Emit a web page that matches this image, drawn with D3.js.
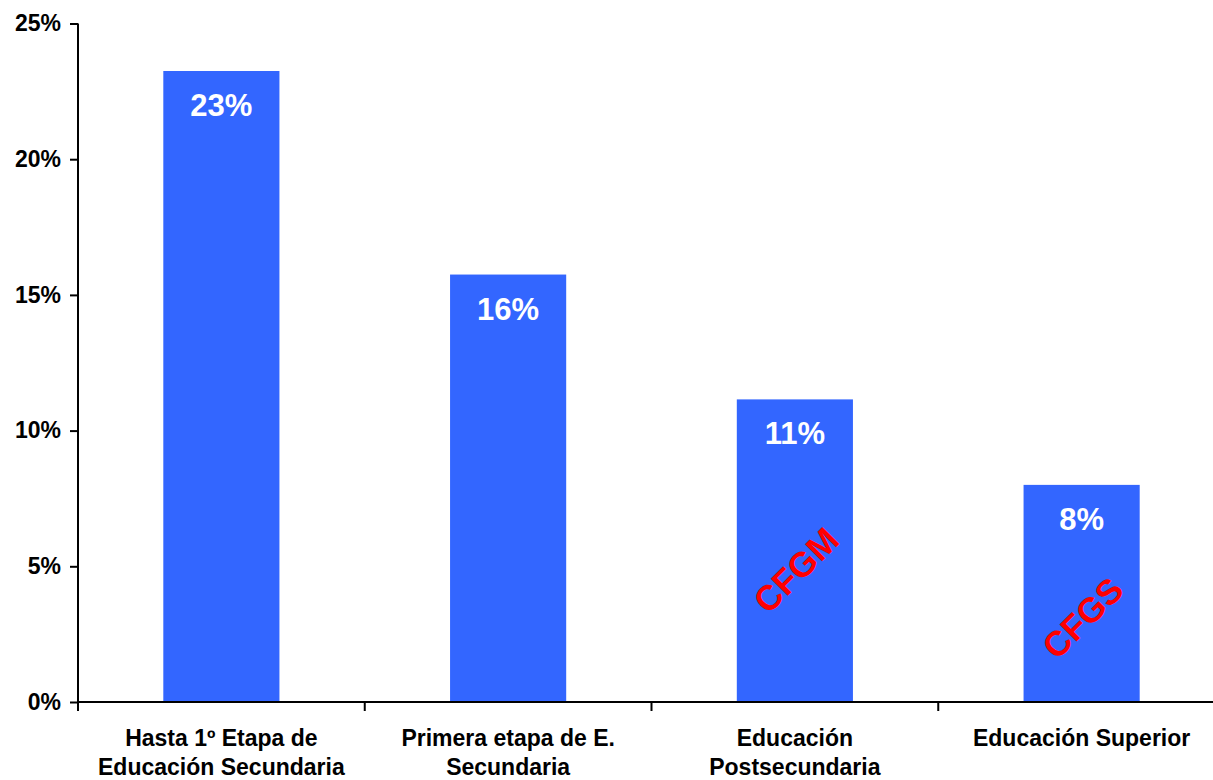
<!DOCTYPE html>
<html><head><meta charset="utf-8">
<script src="https://cdn.jsdelivr.net/npm/d3@7"></script>
<style>
html,body{margin:0;padding:0;background:#fff;}
svg{display:block;font-family:"Liberation Sans",Arial,sans-serif;}
</style></head>
<body><svg id="c" width="1213" height="780"></svg>
<script>
const categories = ["Hasta 1º Etapa de Educación Secundaria","Primera etapa de E. Secundaria","Educación Postsecundaria","Educación Superior"];
const categoryLines = [["Hasta 1º Etapa de","Educación Secundaria"],["Primera etapa de E.","Secundaria"],["Educación","Postsecundaria"],["Educación Superior"]];
const values = [0.2325, 0.1575, 0.1115, 0.080];
const valueLabels = ["23%","16%","11%","8%"];
const overlayLabels = ["","","CFGM","CFGS"];
const yTicks = [0,0.05,0.10,0.15,0.20,0.25];

const svg = d3.select("#c");
const pLeft = 78, pRight = 1225, pTop = 23.5, pBottom = 702;
const x = d3.scaleBand().domain(categories).range([pLeft,pRight]).paddingInner(0.595).paddingOuter(0.2975);
const y = d3.scaleLinear().domain([0,0.25]).range([pBottom,pTop]);

// bars
svg.append("g").selectAll("rect").data(categories).join("rect")
  .attr("x", d=>x(d)).attr("width", x.bandwidth())
  .attr("y", (d,i)=>y(values[i])).attr("height",(d,i)=>pBottom-y(values[i]))
  .attr("fill","#3366FF");

// value labels
svg.append("g").selectAll("text").data(categories).join("text")
  .attr("x", d=>x(d)+x.bandwidth()/2).attr("y",(d,i)=>y(values[i])+45)
  .attr("text-anchor","middle").attr("fill","#fff").attr("font-weight","bold")
  .attr("font-size",31).text((d,i)=>valueLabels[i]);

// overlay labels (position expressed in axis units)
const ovPos = [null,null,0.0486,0.031];
svg.append("g").selectAll("text").data(categories.map((c,i)=>({c,i})).filter(o=>overlayLabels[o.i])).join("text")
  .attr("transform", o=>`translate(${x(o.c)+x.bandwidth()/2+1},${y(ovPos[o.i])}) rotate(-45)`)
  .attr("text-anchor","middle").attr("dominant-baseline","central")
  .attr("fill","#FF0000").attr("font-weight","bold").attr("font-size",35)
  .text(o=>overlayLabels[o.i]);

// y axis
const ya = svg.append("g").attr("transform",`translate(${pLeft},0)`)
  .call(d3.axisLeft(y).tickValues(yTicks).tickFormat(d3.format(".0%")).tickSize(8).tickPadding(9));
ya.select(".domain").attr("stroke","#000").attr("stroke-width",2).attr("d",`M0,${pTop}V${pBottom}`);
ya.selectAll(".tick line").attr("stroke","#000").attr("stroke-width",2);
ya.selectAll(".tick text").attr("font-size",23).attr("font-weight","bold").attr("fill","#000").attr("font-family","Liberation Sans, Arial, sans-serif");

// x axis line + boundary ticks
const xg = svg.append("g");
xg.append("line").attr("x1",pLeft-1).attr("x2",1213).attr("y1",pBottom).attr("y2",pBottom).attr("stroke","#000").attr("stroke-width",2);
const bounds = d3.range(categories.length+1).map(i=>pLeft + i*x.step());
xg.selectAll("line.t").data(bounds).join("line").attr("class","t")
  .attr("x1",d=>d).attr("x2",d=>d).attr("y1",pBottom).attr("y2",pBottom+9)
  .attr("stroke","#000").attr("stroke-width",2);

// category labels
const cl = svg.append("g").selectAll("text").data(categories).join("text")
  .attr("text-anchor","middle").attr("font-weight","bold").attr("font-size",23).attr("fill","#000");
cl.each(function(d,i){
  const t = d3.select(this);
  categoryLines[i].forEach((ln,j)=>{
    t.append("tspan").attr("x", x(d)+x.bandwidth()/2).attr("y", 746 + j*29).text(ln);
  });
});
</script></body></html>
